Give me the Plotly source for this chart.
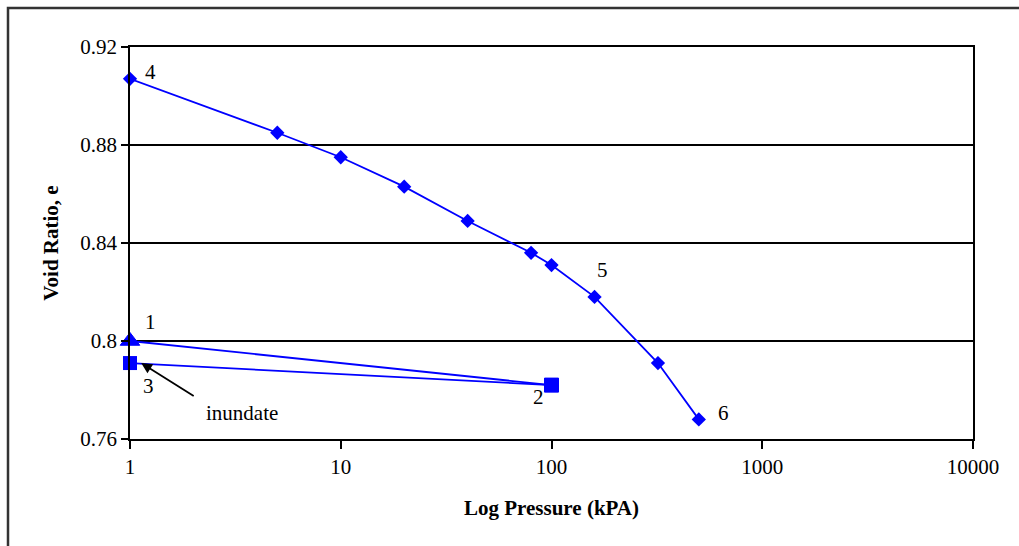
import math
import plotly.graph_objects as go

# Loading curve (diamonds): pressure (kPa) vs void ratio
load_p = [1, 5, 10, 20, 40, 80, 100, 160, 320, 500]
load_e = [0.907, 0.885, 0.875, 0.863, 0.849, 0.836, 0.831, 0.818, 0.791, 0.768]

# Initial seating / unloading (triangle then square)
seat_p = [1, 100]
seat_e = [0.800, 0.782]

# Unload to inundation (squares)
unload_p = [100, 1]
unload_e = [0.782, 0.791]

x_ticks = [1, 10, 100, 1000, 10000]
x_ticklabels = ["1", "10", "100", "1000", "10000"]
y_ticks = [0.76, 0.80, 0.84, 0.88, 0.92]
y_ticklabels = ["0.76", "0.8", "0.84", "0.88", "0.92"]

BLUE = "rgb(0,0,255)"
FONT = "Liberation Serif"
FS = 21

fig = go.Figure()
fig.add_trace(go.Scatter(x=unload_p, y=unload_e, mode="lines+markers", cliponaxis=False,
                         line=dict(color=BLUE, width=1.8),
                         marker=dict(symbol="square", size=14, color=BLUE, opacity=1),
                         showlegend=False))
fig.add_trace(go.Scatter(x=seat_p, y=seat_e, mode="lines+markers", cliponaxis=False,
                         line=dict(color=BLUE, width=1.8),
                         marker=dict(symbol=["triangle-up", "square"], size=[17, 14],
                                     color=BLUE, opacity=1,
                                     line=dict(width=1, color=BLUE)),
                         showlegend=False))
fig.add_trace(go.Scatter(x=load_p, y=load_e, mode="lines+markers", cliponaxis=False,
                         line=dict(color=BLUE, width=1.8),
                         marker=dict(symbol="diamond", size=11, color=BLUE, opacity=1),
                         showlegend=False))

def lbl(text, logx, y, size=FS):
    fig.add_annotation(x=logx, y=y, xref="x", yref="y", text=text, showarrow=False,
                       font=dict(family=FONT, size=size, color="black"))

lbl("4", 0.095, 0.9098)
lbl("5", 2.244, 0.829)
lbl("6", 2.814, 0.7706)
lbl("1", 0.095, 0.8078)
lbl("3", 0.09, 0.7816)
lbl("2", 1.936, 0.7771)
lbl("inundate", 0.531, 0.7706)

fig.add_annotation(x=math.log10(1.13), y=0.791, xref="x", yref="y", text="",
                   showarrow=True, arrowhead=2, arrowsize=1.2, arrowwidth=1.8,
                   arrowcolor="black", ax=54, ay=34, axref="pixel", ayref="pixel")

# outer frame (cropped on right and bottom)
fig.add_shape(type="rect", xref="paper", yref="paper",
              x0=(8 - 130) / 843, x1=1.2, y0=-0.5, y1=(439 - 8) / 392,
              line=dict(color="#333333", width=2.5), layer="below")

fig.update_xaxes(type="log", range=[0, 4], tickvals=x_ticks, ticktext=x_ticklabels,
                 showgrid=False, zeroline=False, showline=True, linecolor="black",
                 linewidth=1.5, mirror=True, ticks="outside", ticklen=8,
                 tickcolor="black", tickwidth=1.5,
                 tickfont=dict(family=FONT, size=FS, color="black"),
                 title=dict(text="<b>Log Pressure (kPA)</b>", standoff=22,
                            font=dict(family=FONT, size=FS, color="black")))
fig.update_yaxes(range=[0.76, 0.92], tickvals=y_ticks, ticktext=y_ticklabels,
                 showgrid=True, gridcolor="black", gridwidth=1.5, zeroline=False,
                 showline=True, linecolor="black", linewidth=1.5, mirror=True,
                 ticks="outside", ticklen=7, tickcolor="black", tickwidth=1.5,
                 tickfont=dict(family=FONT, size=FS, color="black"),
                 title=dict(text="<b>Void Ratio, e</b>", standoff=16,
                            font=dict(family=FONT, size=FS, color="black")))

fig.update_layout(width=1019, height=546, plot_bgcolor="white", paper_bgcolor="white",
                  margin=dict(l=130, r=46, t=47, b=107))

fig.write_html("out.html")
